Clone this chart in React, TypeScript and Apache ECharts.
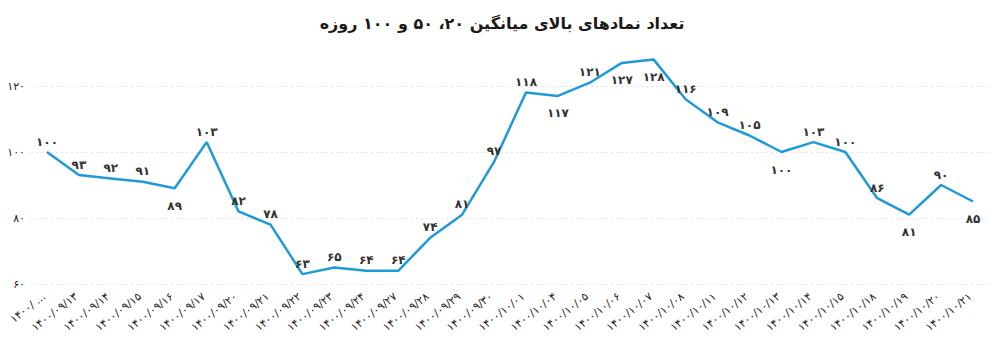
import React, { useEffect, useRef } from "react";
import * as echarts from "echarts";

const TITLE = "تعداد نمادهای بالای میانگین ۲۰، ۵۰ و ۱۰۰ روزه";

const categories = [
  "۱۴۰۰/۰۹/۱۰", "۱۴۰۰/۰۹/۱۳", "۱۴۰۰/۰۹/۱۴", "۱۴۰۰/۰۹/۱۵", "۱۴۰۰/۰۹/۱۶",
  "۱۴۰۰/۰۹/۱۷", "۱۴۰۰/۰۹/۲۰", "۱۴۰۰/۰۹/۲۱", "۱۴۰۰/۰۹/۲۲", "۱۴۰۰/۰۹/۲۳",
  "۱۴۰۰/۰۹/۲۴", "۱۴۰۰/۰۹/۲۷", "۱۴۰۰/۰۹/۲۸", "۱۴۰۰/۰۹/۲۹", "۱۴۰۰/۰۹/۳۰",
  "۱۴۰۰/۱۰/۰۱", "۱۴۰۰/۱۰/۰۴", "۱۴۰۰/۱۰/۰۵", "۱۴۰۰/۱۰/۰۶", "۱۴۰۰/۱۰/۰۷",
  "۱۴۰۰/۱۰/۰۸", "۱۴۰۰/۱۰/۱۱", "۱۴۰۰/۱۰/۱۲", "۱۴۰۰/۱۰/۱۳", "۱۴۰۰/۱۰/۱۴",
  "۱۴۰۰/۱۰/۱۵", "۱۴۰۰/۱۰/۱۸", "۱۴۰۰/۱۰/۱۹", "۱۴۰۰/۱۰/۲۰", "۱۴۰۰/۱۰/۲۱",
];

const values = [
  100, 93, 92, 91, 89, 103, 82, 78, 63, 65,
  64, 64, 74, 81, 97, 118, 117, 121, 127, 128,
  116, 109, 105, 100, 103, 100, 86, 81, 90, 85,
];

const Y_MIN = 60;
const Y_MAX = 120;
const Y_STEP = 20;

// indices whose value label sits below the point
const labelsBelow = [4, 16, 18, 19, 23, 27, 29];

const FA_DIGITS = "۰۱۲۳۴۵۶۷۸۹";
const toFa = (v: number | string) =>
  String(v).replace(/[0-9]/g, (d) => FA_DIGITS[Number(d)]);

const FONT = "'DejaVu Sans', sans-serif";

export default function App() {
  const ref = useRef<HTMLDivElement>(null);

  useEffect(() => {
    if (!ref.current) return;
    const chart = echarts.init(ref.current, undefined, { renderer: "svg" });

    const seriesData = values.map((v, i) => {
      const below = labelsBelow.includes(i);
      return {
        value: v,
        label: {
          position: below ? "bottom" : "top",
          distance: below ? 11 : 4,
        },
      };
    });

    chart.setOption({
      animation: false,
      backgroundColor: "#ffffff",
      textStyle: { fontFamily: FONT },
      title: {
        text: TITLE,
        left: "center",
        top: 10,
        textStyle: {
          fontFamily: FONT,
          fontSize: 16,
          fontWeight: "bold",
          color: "#1a1a1a",
        },
      },
      grid: { left: 31, right: 15, top: 86, bottom: 67, containLabel: false },
      xAxis: {
        type: "category",
        data: categories,
        boundaryGap: true,
        axisLine: { show: false },
        axisTick: { show: false },
        axisLabel: {
          rotate: 38,
          margin: 9,
          interval: 0,
          fontSize: 11,
          fontFamily: FONT,
          color: "#222",
          formatter: (val: string, idx: number) =>
            (idx === 0 ? val.slice(0, 5) + " ..." : val) + " ",
        },
        splitLine: { show: false },
      },
      yAxis: {
        type: "value",
        min: Y_MIN,
        max: Y_MAX,
        interval: Y_STEP,
        axisLine: { show: false },
        axisTick: { show: false },
        axisLabel: {
          margin: 6,
          fontSize: 11,
          fontFamily: FONT,
          color: "#222",
          formatter: (v: number) => toFa(v),
        },
        splitLine: {
          show: true,
          lineStyle: { color: "#e3e3e3", type: [2, 3], width: 1 },
        },
      },
      series: [
        {
          type: "line",
          data: seriesData,
          clip: false,
          symbol: "circle",
          symbolSize: 1,
          showSymbol: true,
          lineStyle: { color: "#1e9bd6", width: 2.5 },
          itemStyle: { color: "rgba(0,0,0,0)", borderWidth: 0 },
          label: {
            show: true,
            fontSize: 12,
            fontFamily: FONT,
            fontWeight: "bold",
            color: "#333",
            formatter: (p: any) => toFa(p.value),
          },
        },
      ],
    });

    return () => chart.dispose();
  }, []);

  return (
    <div
      ref={ref}
      style={{ position: "fixed", left: 0, top: 0, width: 1004, height: 351 }}
    />
  );
}
